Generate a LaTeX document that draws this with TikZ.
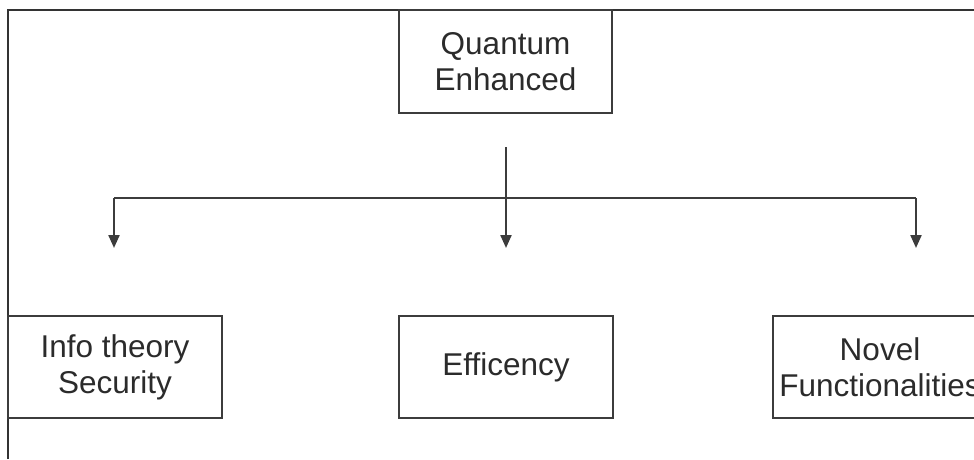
\documentclass[tikz,border=0pt]{standalone}
\usepackage{fontspec}
\setmainfont{Liberation Sans}
\usetikzlibrary{arrows.meta}
\definecolor{txt}{HTML}{2B2B2B}
\definecolor{edge}{HTML}{3C3C3C}
\begin{document}
\begin{tikzpicture}[x=1pt,y=-1pt,
  box/.style={draw=edge,line width=2.2pt,inner sep=0pt,text=txt,align=center,
    font=\fontsize{31.5}{36}\selectfont},
  conn/.style={draw=edge,line width=2.2pt},
  arr/.style={conn,-{Triangle[length=13pt,width=11pt]}},
  frame/.style={draw=black!80,line width=2pt}]
\useasboundingbox (0,0) rectangle (974,459);
\clip (0,0) rectangle (974,459);
\draw[frame] (8,459) -- (8,10) -- (974,10);
\node[box,minimum width=213pt,minimum height=103pt] (qe) at (505.5,61.5) {Quantum\\Enhanced};
\node[box,minimum width=214pt,minimum height=102pt] (its) at (115,367) {Info theory\\Security};
\node[box,minimum width=214pt,minimum height=102pt] (eff) at (506,367) {Efficency};
\node[box,minimum width=214pt,minimum height=102pt] (nf) at (880,367) {Novel\\Functionalities};
\coordinate (top) at (506,147);
\coordinate (jl) at (114,198);
\coordinate (jr) at (916,198);
\coordinate (tl) at (114,248);
\coordinate (tm) at (506,248);
\coordinate (tr) at (916,248);
\draw[conn] (jl) -- (jr);
\draw[arr] (top) -- (tm);
\draw[arr] (jl) -- (tl);
\draw[arr] (jr) -- (tr);
\end{tikzpicture}
\end{document}
